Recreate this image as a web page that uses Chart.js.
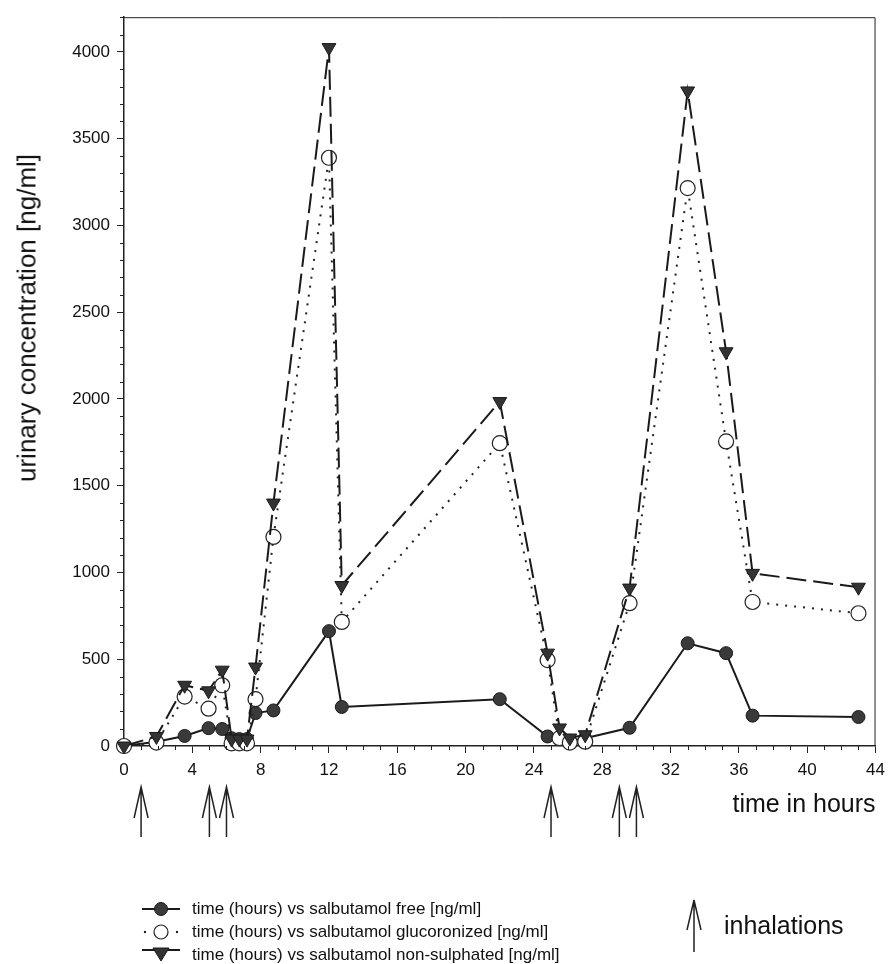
<!DOCTYPE html>
<html>
<head>
<meta charset="utf-8">
<title>Salbutamol urinary concentration</title>
<script src="https://cdn.jsdelivr.net/npm/chart.js@4/dist/chart.umd.min.js"></script>
<style>
  body { margin: 0; background: #fff; font-family: "Liberation Sans", Arial, sans-serif; color: #111; }
  #wrap { position: relative; width: 892px; height: 964px; }
  #chart { position: absolute; left: 0; top: 0; }
  #ytitle {
    position: absolute; left: 27px; top: 318px;
    transform: translate(-50%, -50%) rotate(-90deg);
    white-space: nowrap; font-size: 26px;
  }
  #legend { position: absolute; left: 140px; top: 897px; font-size: 17px; }
  #legend .row { display: flex; align-items: center; height: 23px; }
  #legend svg { width: 44px; height: 22px; margin-right: 8px; }
  #inhal { position: absolute; left: 684px; top: 896px; display: flex; align-items: center; font-size: 25px; }
  #inhal svg { margin-right: 20px; }
</style>
</head>
<body>
<div id="wrap">
  <canvas id="chart" width="892" height="964"></canvas>
  <div id="ytitle">urinary concentration [ng/ml]</div>
  <div id="legend"></div>
  <div id="inhal">
    <svg width="20" height="58"><path d="M10 56 V4 M3 34 L10 4 L17 34" fill="none" stroke="#222" stroke-width="1.5"/></svg>
    <span>inhalations</span>
  </div>
</div>

<script>
// sampling times (hours)
const hours = [0, 1.9, 3.55, 4.95, 5.75, 6.3, 6.75, 7.2, 7.7, 8.75, 12.0, 12.75, 22.0, 24.8, 25.5, 26.1, 27.0, 29.6, 33.0, 35.25, 36.8, 43.0];

// urinary concentrations [ng/ml]
const freeConc = [0, 25, 58, 103, 98, 45, 40, 40, 190, 205, 662, 225, 270, 55, 40, 30, 45, 105, 592, 535, 175, 167];
const glucConc = [0, 20, 285, 215, 350, 15, 15, 15, 270, 1205, 3390, 715, 1745, 495, 45, 20, 25, 823, 3215, 1755, 830, 765];
const nonSulphConc = [0, 55, 350, 318, 437, 40, 40, 40, 455, 1400, 4025, 925, 1985, 535, 104, 46, 65, 910, 3775, 2272, 995, 915];

// axis tick labels
const hourTicks = [0, 4, 8, 12, 16, 20, 24, 28, 32, 36, 40, 44];
const concTicks = [0, 500, 1000, 1500, 2000, 2500, 3000, 3500, 4000];

// times of the inhalations (hours)
const inhalationTimes = [1, 5, 6, 25, 29, 30];

const seriesNames = [
  'time (hours) vs salbutamol free [ng/ml]',
  'time (hours) vs salbutamol glucoronized [ng/ml]',
  'time (hours) vs salbutamol non-sulphated [ng/ml]'
];

Chart.defaults.font.family = '"Liberation Sans", Arial, sans-serif';
Chart.defaults.color = '#111';

const toPoints = (vals) => hours.map((h, i) => ({ x: h, y: vals[i] }));

// arrows under the time axis, one per inhalation
const inhalationArrows = {
  id: 'inhalationArrows',
  afterDraw(chart) {
    const { ctx, scales: { x } } = chart;
    ctx.save();
    ctx.strokeStyle = '#222';
    ctx.lineWidth = 1.5;
    inhalationTimes.forEach(t => {
      const px = x.getPixelForValue(t);
      ctx.beginPath();
      ctx.moveTo(px, 837);
      ctx.lineTo(px, 787);
      ctx.moveTo(px - 7, 818);
      ctx.lineTo(px, 787);
      ctx.lineTo(px + 7, 818);
      ctx.stroke();
    });
    ctx.restore();
  }
};

// box on top/right + minor ticks
const frameTicks = {
  id: 'frameTicks',
  afterDraw(chart) {
    const { ctx, chartArea: a, scales: { x, y } } = chart;
    ctx.save();
    ctx.strokeStyle = '#222';
    ctx.lineWidth = 1;
    ctx.beginPath();
    ctx.moveTo(a.left, a.top + 0.5);
    ctx.lineTo(a.right - 0.5, a.top + 0.5);
    ctx.lineTo(a.right - 0.5, a.bottom);
    for (let h = 0; h <= 44; h++) {
      if (h % 4 === 0) continue;
      const px = Math.round(x.getPixelForValue(h)) + 0.5;
      ctx.moveTo(px, a.bottom);
      ctx.lineTo(px, a.bottom + 4);
    }
    for (let v = 0; v <= 4200; v += 100) {
      if (v % 500 === 0) continue;
      const py = Math.round(y.getPixelForValue(v)) + 0.5;
      ctx.moveTo(a.left, py);
      ctx.lineTo(a.left - 4, py);
    }
    ctx.stroke();
    ctx.restore();
  }
};

const chart = new Chart(document.getElementById('chart'), {
  type: 'scatter',
  data: {
    datasets: [
      {
        label: seriesNames[0],
        data: toPoints(freeConc),
        showLine: true,
        borderColor: '#1a1a1a',
        borderWidth: 2,
        pointStyle: 'circle',
        pointRadius: 6.5,
        pointBackgroundColor: '#3a3a3a',
        pointBorderColor: '#1a1a1a',
        pointBorderWidth: 1,
        clip: false,
        order: 2
      },
      {
        label: seriesNames[1],
        data: toPoints(glucConc),
        showLine: true,
        borderColor: '#222',
        borderWidth: 2,
        borderDash: [2, 7],
        pointStyle: 'circle',
        pointRadius: 7.5,
        pointBackgroundColor: '#fff',
        pointBorderColor: '#222',
        pointBorderWidth: 1.2,
        clip: false,
        order: 1
      },
      {
        label: seriesNames[2],
        data: toPoints(nonSulphConc),
        showLine: true,
        borderColor: '#1a1a1a',
        borderWidth: 2,
        borderDash: [20, 7],
        pointStyle: 'triangle',
        pointRotation: 180,
        pointRadius: 8,
        pointBackgroundColor: '#333',
        pointBorderColor: '#1a1a1a',
        pointBorderWidth: 1,
        clip: false,
        order: 0
      }
    ]
  },
  options: {
    responsive: false,
    animation: false,
    layout: { padding: { top: 16, right: 12, bottom: 144, left: 0 } },
    plugins: { legend: { display: false }, tooltip: { enabled: false } },
    scales: {
      x: {
        type: 'linear',
        min: 0,
        max: 44,
        afterBuildTicks(s) { s.ticks = hourTicks.map(v => ({ value: v })); },
        ticks: { font: { size: 17 }, padding: 7, maxRotation: 0 },
        grid: { drawOnChartArea: false, tickLength: 7, color: '#222' },
        border: { color: '#222', width: 1.5 },
        title: { display: true, text: 'time in hours', align: 'end', font: { size: 25 }, padding: 0 },
        afterFit(s) { s.height = 74; }
      },
      y: {
        min: 0,
        max: 4200,
        afterBuildTicks(s) { s.ticks = concTicks.map(v => ({ value: v })); },
        ticks: { font: { size: 17 }, padding: 7, callback: v => String(v) },
        grid: { drawOnChartArea: false, tickLength: 7, color: '#222' },
        border: { color: '#222', width: 1.5 },
        afterFit(s) { s.width = 124; }
      }
    }
  },
  plugins: [inhalationArrows, frameTicks]
});

// legend built from the datasets
const symbols = [
  '<line x1="2" y1="11" x2="40" y2="11" stroke="#1a1a1a" stroke-width="2"/><circle cx="21" cy="11" r="6.5" fill="#3a3a3a" stroke="#1a1a1a"/>',
  '<circle cx="5" cy="11" r="1.2" fill="#222"/><circle cx="37" cy="11" r="1.2" fill="#222"/><circle cx="21" cy="11" r="7" fill="#fff" stroke="#222" stroke-width="1.2"/>',
  '<line x1="2" y1="6" x2="40" y2="6" stroke="#1a1a1a" stroke-width="2"/><path d="M13 4 L29 4 L21 17 Z" fill="#333" stroke="#1a1a1a"/>'
];
const legend = document.getElementById('legend');
chart.data.datasets.forEach((ds, i) => {
  const row = document.createElement('div');
  row.className = 'row';
  row.innerHTML = `<svg viewBox="0 0 44 22">${symbols[i]}</svg><span>${ds.label}</span>`;
  legend.appendChild(row);
});
</script>
</body>
</html>
